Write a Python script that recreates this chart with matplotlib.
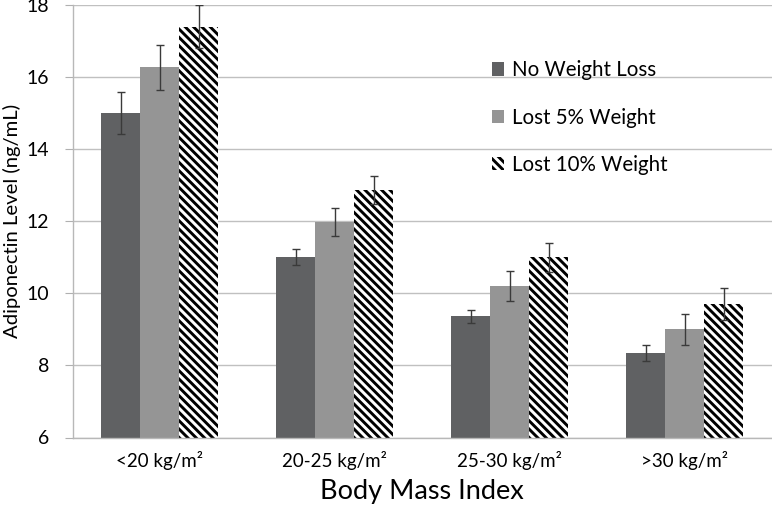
import numpy as np
import matplotlib
matplotlib.use("Agg")
import matplotlib.pyplot as plt

plt.rcParams['font.family'] = ['Lato', 'DejaVu Sans']
plt.rcParams['hatch.linewidth'] = 2.1

# data
categories = ['<20 kg/m²', '20-25 kg/m²', '25-30 kg/m²', '>30 kg/m²']
series = ['No Weight Loss', 'Lost 5% Weight', 'Lost 10% Weight']
no_loss = [15.0, 11.0, 9.36, 8.34]
lost_5 = [16.27, 11.98, 10.2, 9.0]
lost_10 = [17.4, 12.86, 11.0, 9.7]
err_no_loss = [0.58, 0.22, 0.17, 0.22]
err_lost_5 = [0.63, 0.39, 0.41, 0.43]
err_lost_10 = [0.6, 0.39, 0.4, 0.44]

fig = plt.figure(figsize=(7.72, 5.05), dpi=100)
ax = fig.add_axes([72.5 / 772, 1 - 437.5 / 505, 1 - 72.5 / 772, 432.5 / 505])

x = np.arange(len(categories))
w = 0.223
styles = [
    dict(color='#606163'),
    dict(color='#959595'),
    dict(facecolor='white', edgecolor='black', hatch='\\\\\\\\', linewidth=0),
]
values = [no_loss, lost_5, lost_10]
errs = [err_no_loss, err_lost_5, err_lost_10]

for i in range(3):
    ax.bar(x + (i - 1) * w, values[i], w, bottom=0, label=series[i],
           zorder=2, **styles[i])
    ax.errorbar(x + (i - 1) * w, values[i], yerr=errs[i], fmt='none',
                ecolor='#3a3a3a', elinewidth=1, capsize=3, capthick=1,
                zorder=3)

ax.set_xlim(-0.5, 3.5)
ax.set_ylim(6, 18)
ax.set_yticks(np.arange(6, 19, 2))
ax.set_xticks(x)
ax.set_xticklabels(categories, fontsize=13.5)
ax.tick_params(axis='y', labelsize=14, length=6, color='#b0b0b0', pad=11)
ax.tick_params(axis='x', length=0, pad=10)
ax.yaxis.grid(True, color='#c0c0c0', linewidth=1, zorder=0)
ax.set_axisbelow(True)
for s in ['top', 'right']:
    ax.spines[s].set_visible(False)
for s in ['left', 'bottom']:
    ax.spines[s].set_color('#b8b8b8')
    ax.spines[s].set_linewidth(1)

ax.set_xlabel('Body Mass Index', fontsize=19.5, labelpad=6)
ax.set_ylabel('Adiponectin Level (ng/mL)', fontsize=14.6, labelpad=4)

ax.legend(loc='upper left', bbox_to_anchor=(0.573, 0.915), frameon=False,
          fontsize=14.8, handlelength=0.6, handleheight=0.6, handletextpad=0.4,
          labelspacing=1.33)

fig.savefig('out.png', dpi=100)
